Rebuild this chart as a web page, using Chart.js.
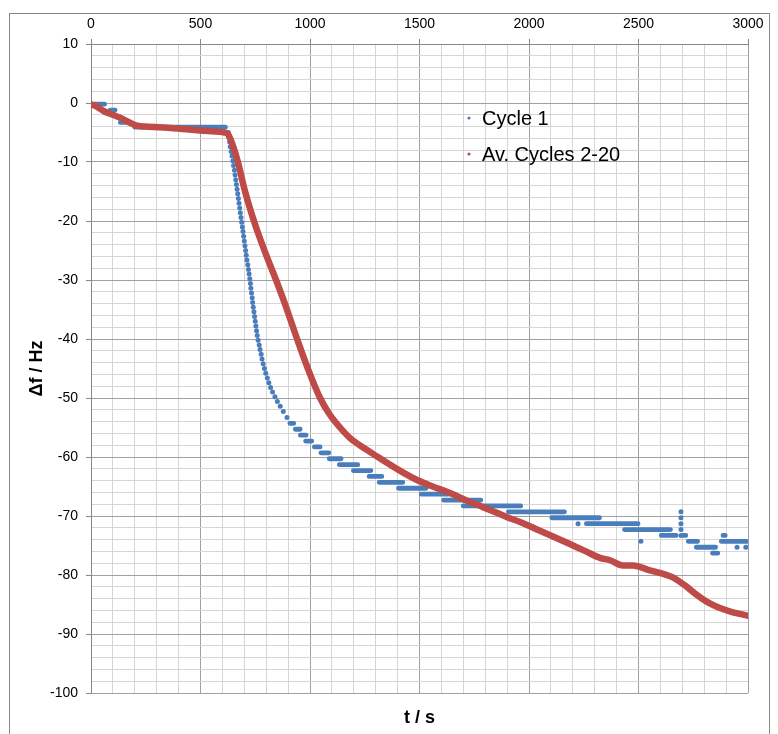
<!DOCTYPE html>
<html>
<head>
<meta charset="utf-8">
<script src="https://cdn.jsdelivr.net/npm/chart.js@4/dist/chart.umd.min.js"></script>
<style>
  html, body { margin: 0; padding: 0; background: #ffffff; }
  #wrap { width: 778px; height: 734px; position: relative; }
</style>
</head>
<body>
<div id="wrap"><canvas id="c"></canvas></div>
<script>
// ---- Data ----
// Av. Cycles 2-20 (red)
const avTime = [0, 30, 60, 100, 140, 175, 205, 250, 350, 450, 550, 610, 626, 648, 671, 700, 744, 790, 845, 890, 941, 990, 1046, 1090, 1137, 1183, 1260, 1310, 1410, 1489, 1560, 1639, 1710, 1790, 1850, 1900, 1959, 2050, 2130, 2201, 2260, 2324, 2370, 2429, 2475, 2552, 2620, 2657, 2690, 2721, 2760, 2794, 2830, 2872, 2920, 2963, 3000];
const avValues = [-0.2, -0.7, -1.4, -2.0, -2.6, -3.3, -3.8, -4.0, -4.2, -4.5, -4.8, -5.0, -5.3, -7.2, -10.0, -14.5, -20.0, -24.8, -30.0, -34.5, -40.0, -45.0, -50.0, -52.8, -55.0, -56.8, -58.8, -60.0, -62.3, -63.9, -65.0, -66.1, -67.3, -68.5, -69.4, -70.2, -71.0, -72.5, -73.8, -75.0, -76.0, -77.1, -77.5, -78.4, -78.4, -79.2, -79.9, -80.4, -81.2, -82.0, -83.2, -84.1, -84.9, -85.6, -86.2, -86.6, -86.9];

// Cycle 1 (blue): individual samples during the fast drop and isolated readings
const c1DotTime = [627, 630, 633, 636, 640, 644, 648, 651, 655, 658, 661, 664, 667, 670, 673, 676, 679, 682, 685, 688, 691, 694, 697, 700, 703, 706, 709, 712, 716, 719, 722, 725, 728, 730, 733, 736, 738, 741, 744, 747, 750, 753, 756, 759, 763, 768, 772, 777, 781, 786, 792, 798, 805, 812, 820, 829, 840, 851, 864, 878, 895,
  2224, 2511, 2694, 2694, 2694, 2694, 2694, 2950, 2990];
const c1DotValues = [-5.0, -5.8, -6.6, -7.4, -8.2, -9.0, -9.8, -10.6, -11.4, -12.2, -13.0, -13.8, -14.6, -15.4, -16.2, -17.0, -17.8, -18.6, -19.4, -20.2, -21.0, -21.8, -22.6, -23.4, -24.2, -25.0, -25.8, -26.6, -27.4, -28.2, -29.0, -29.8, -30.6, -31.4, -32.2, -33.0, -33.8, -34.6, -35.4, -36.2, -37.0, -37.8, -38.6, -39.4, -40.2, -41.0, -41.8, -42.6, -43.4, -44.2, -45.0, -45.8, -46.6, -47.4, -48.2, -49.0, -49.8, -50.6, -51.4, -52.3, -53.3,
  -71.3, -74.3, -69.3, -70.3, -71.3, -72.3, -73.3, -75.3, -75.3];

// Cycle 1 (blue): quantised plateaus (start time, end time, level)
const c1RunStart = [16, 88, 118, 134, 200, 908, 933, 956, 980, 1020, 1050, 1088, 1134, 1198, 1270, 1316, 1404, 1508, 1610, 1700, 1906, 2104, 2262, 2436, 2604, 2704, 2727, 2764, 2838, 2878, 2886];
const c1RunEnd   = [62, 110, 125, 180, 614, 926, 955, 982, 1008, 1046, 1086, 1142, 1218, 1278, 1328, 1424, 1530, 1630, 1780, 1962, 2162, 2322, 2498, 2646, 2672, 2716, 2770, 2852, 2862, 2994, 2896];
const c1RunLevel = [-0.2, -1.2, -2.3, -3.3, -4.1, -54.3, -55.3, -56.3, -57.3, -58.3, -59.3, -60.3, -61.3, -62.3, -63.3, -64.3, -65.3, -66.3, -67.3, -68.3, -69.3, -70.3, -71.3, -72.3, -73.3, -73.3, -74.3, -75.3, -76.3, -74.3, -73.3];

// Axis settings
const xMin = 0, xMax = 3000, xMinorStep = 100, xMajorStep = 500;
const yMin = -100, yMax = 10, yMinorStep = 2, yMajorStep = 10;
const seriesLabels = ['Cycle 1', 'Av. Cycles 2-20'];
const xTitle = 't / s';
const yTitle = '\u0394f / Hz';

// ---- Build datasets ----
const blue = '#4a7ebb';
const red = '#be4b48';

const avData = avTime.map((t, i) => ({ x: t, y: avValues[i] }));
const dotData = c1DotTime.map((t, i) => ({ x: t, y: c1DotValues[i] }));
const runData = [];
c1RunStart.forEach((s, i) => {
  runData.push({ x: s, y: c1RunLevel[i] });
  runData.push({ x: c1RunEnd[i], y: c1RunLevel[i] });
  runData.push({ x: c1RunEnd[i], y: null });
});

const FONT = "'Liberation Sans', Arial, sans-serif";

const frameAndLegend = {
  id: 'frameAndLegend',
  beforeDraw(chart) {
    const ctx = chart.ctx;
    ctx.save();
    ctx.fillStyle = '#ffffff';
    ctx.fillRect(0, 0, chart.width, chart.height);
    ctx.strokeStyle = '#868686';
    ctx.lineWidth = 1;
    ctx.strokeRect(9.5, 13.5, 760, 740);
    ctx.restore();
  },
  afterDraw(chart) {
    const ctx = chart.ctx;
    const items = [
      { label: chart.data.datasets[0].label, color: blue },
      { label: chart.data.datasets[2].label, color: red }
    ];
    ctx.save();
    ctx.font = '20px ' + FONT;
    ctx.textBaseline = 'middle';
    ctx.textAlign = 'left';
    items.forEach((it, i) => {
      const x = 469, y = i === 0 ? 118 : 154;
      ctx.fillStyle = it.color;
      ctx.beginPath();
      ctx.arc(x, y, 1.6, 0, Math.PI * 2);
      ctx.fill();
      ctx.fillStyle = '#000000';
      ctx.fillText(it.label, 482, y + 1);
    });
    ctx.restore();
  }
};

const chart = new Chart(document.getElementById('c'), {
  type: 'scatter',
  data: {
    datasets: [
      {
        label: seriesLabels[0],
        data: dotData,
        showLine: false,
        pointRadius: 2.5,
        pointHoverRadius: 2.5,
        pointBorderWidth: 0,
        backgroundColor: blue,
        borderColor: blue,
        order: 2
      },
      {
        label: seriesLabels[0] + ' plateaus',
        data: runData,
        showLine: true,
        spanGaps: false,
        pointRadius: 0,
        borderColor: blue,
        borderWidth: 4.8,
        borderCapStyle: 'round',
        order: 3
      },
      {
        label: seriesLabels[1],
        data: avData,
        showLine: true,
        pointRadius: 0,
        borderColor: red,
        borderWidth: 6.5,
        borderCapStyle: 'round',
        borderJoinStyle: 'round',
        cubicInterpolationMode: 'monotone',
        order: 1
      }
    ]
  },
  options: {
    responsive: true,
    maintainAspectRatio: false,
    animation: false,
    events: [],
    layout: { padding: { left: 22, right: 30, top: 0, bottom: 0 } },
    plugins: {
      legend: { display: false },
      tooltip: { enabled: false }
    },
    scales: {
      x: {
        type: 'linear',
        position: 'top',
        min: xMin, max: xMax,
        afterFit(s) { s.height = 44; },
        ticks: {
          stepSize: xMinorStep,
          autoSkip: false,
          maxRotation: 0,
          padding: 6,
          color: '#000000',
          font: { family: FONT, size: 14 },
          callback: v => (v % xMajorStep === 0 ? String(v) : '')
        },
        grid: {
          color: c => (c.tick && c.tick.value % xMajorStep === 0 ? '#a0a0a0' : '#d6d6d6'),
          tickColor: c => (c.tick && c.tick.value % xMajorStep === 0 ? '#868686' : 'rgba(0,0,0,0)'),
          tickLength: 5,
          lineWidth: 1
        },
        border: { display: true, color: '#868686' }
      },
      xb: {
        type: 'linear',
        position: 'bottom',
        min: xMin, max: xMax,
        afterFit(s) { s.height = 41; },
        ticks: { display: false },
        grid: { display: false },
        border: { display: false },
        title: {
          display: true,
          text: xTitle,
          color: '#000000',
          font: { family: FONT, size: 18, weight: 'bold' },
          padding: { top: 0, bottom: 5 }
        }
      },
      y: {
        type: 'linear',
        position: 'left',
        min: yMin, max: yMax,
        afterFit(s) { s.width = 69; },
        ticks: {
          stepSize: yMinorStep,
          autoSkip: false,
          padding: 8,
          color: '#000000',
          font: { family: FONT, size: 14 },
          callback: v => (v % yMajorStep === 0 ? String(v) : '')
        },
        grid: {
          color: c => (c.tick && c.tick.value % yMajorStep === 0 ? '#a0a0a0' : '#d6d6d6'),
          tickColor: c => (c.tick && c.tick.value % yMajorStep === 0 ? '#868686' : 'rgba(0,0,0,0)'),
          tickLength: 5,
          lineWidth: 1
        },
        border: { display: true, color: '#868686' },
        title: {
          display: true,
          text: yTitle,
          color: '#000000',
          font: { family: FONT, size: 18, weight: 'bold' },
          padding: { top: 4, bottom: 0 }
        }
      }
    }
  },
  plugins: [frameAndLegend]
});
</script>
</body>
</html>
